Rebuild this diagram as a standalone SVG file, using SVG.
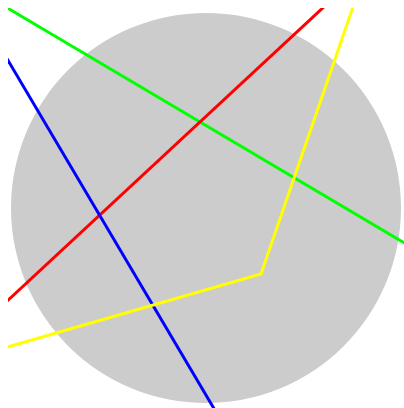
<svg xmlns="http://www.w3.org/2000/svg" width="404" height="408" viewBox="0 0 404 408">
<defs>
<clipPath id="c"><rect x="8" y="8" width="396" height="400"/></clipPath>
<style>.l{fill:none;stroke-width:3;}</style>
</defs>
<rect width="404" height="408" fill="#fff"/>
<g clip-path="url(#c)">
<circle id="disc" cx="206" cy="208" r="195" fill="#cccccc"/>
<g id="lines">
<line class="l" x1="4" y1="6" x2="408" y2="245" stroke="#00ff00"/>
<line class="l" x1="4" y1="304" x2="327" y2="4" stroke="#ff0000"/>
<line class="l" x1="6" y1="57" x2="216" y2="412" stroke="#0000ff"/>
<polyline class="l" points="4,348 261,274 354,4" stroke="#ffff00"/>
</g>
</g>
</svg>
